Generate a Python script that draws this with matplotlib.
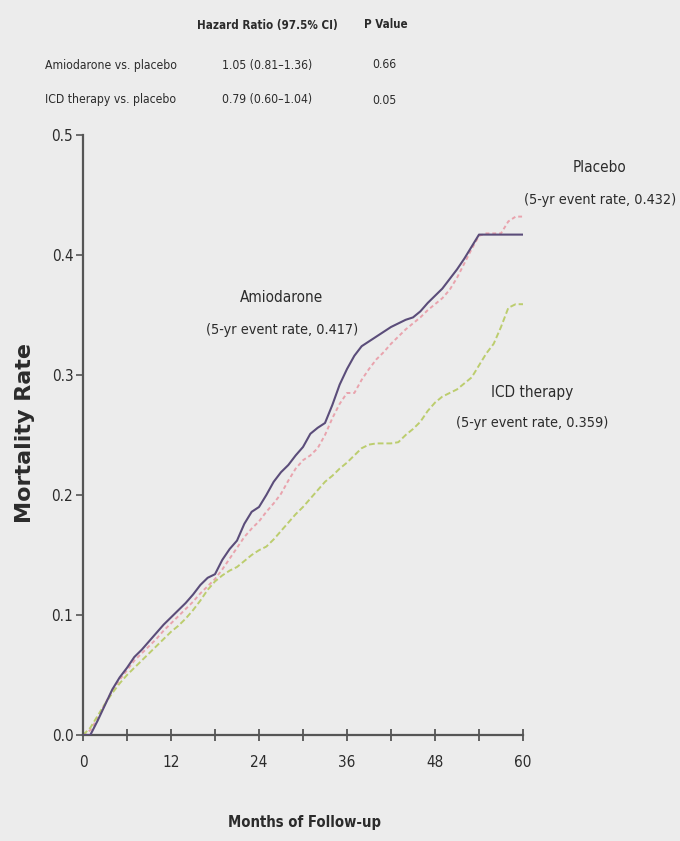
import matplotlib
matplotlib.use("Agg")
import matplotlib.pyplot as plt
import numpy as np

# Kaplan-Meier style cumulative mortality, monthly values (months 0..60)
months = list(range(61))

amiodarone = [
    0.000, 0.000, 0.012, 0.025, 0.038, 0.048, 0.056, 0.065, 0.071, 0.078,
    0.085, 0.092, 0.098, 0.104, 0.110, 0.117, 0.125, 0.131, 0.134, 0.146,
    0.155, 0.162, 0.176, 0.186, 0.190, 0.200, 0.211, 0.219, 0.225, 0.233,
    0.240, 0.251, 0.256, 0.260, 0.275, 0.292, 0.305, 0.316, 0.324, 0.328,
    0.332, 0.336, 0.340, 0.343, 0.346, 0.348, 0.353, 0.360, 0.366, 0.372,
    0.380, 0.388, 0.397, 0.407, 0.417, 0.417, 0.417, 0.417, 0.417, 0.417,
    0.417,
]

placebo = [
    0.000, 0.004, 0.014, 0.026, 0.037, 0.046, 0.054, 0.062, 0.068, 0.074,
    0.080, 0.087, 0.093, 0.099, 0.105, 0.111, 0.118, 0.124, 0.130, 0.138,
    0.147, 0.156, 0.165, 0.172, 0.178, 0.186, 0.193, 0.201, 0.212, 0.222,
    0.229, 0.233, 0.239, 0.250, 0.264, 0.276, 0.285, 0.285, 0.296, 0.305,
    0.313, 0.319, 0.326, 0.332, 0.338, 0.343, 0.348, 0.354, 0.359, 0.364,
    0.371, 0.381, 0.393, 0.405, 0.416, 0.418, 0.418, 0.418, 0.428, 0.432,
    0.432,
]

icd_therapy = [
    0.000, 0.006, 0.016, 0.026, 0.035, 0.043, 0.050, 0.056, 0.062, 0.068,
    0.074, 0.080, 0.086, 0.091, 0.097, 0.104, 0.112, 0.121, 0.128, 0.133,
    0.137, 0.140, 0.145, 0.150, 0.154, 0.157, 0.163, 0.170, 0.177, 0.184,
    0.190, 0.197, 0.204, 0.211, 0.216, 0.222, 0.227, 0.233, 0.239, 0.242,
    0.243, 0.243, 0.243, 0.244, 0.250, 0.255, 0.261, 0.270, 0.277, 0.282,
    0.285, 0.288, 0.293, 0.298, 0.308, 0.318, 0.326, 0.340, 0.356, 0.359,
    0.359,
]

# Summary table
comparisons = ["Amiodarone vs. placebo", "ICD therapy vs. placebo"]
hazard_ratios = ["1.05 (0.81\u20131.36)", "0.79 (0.60\u20131.04)"]
p_values = ["0.66", "0.05"]

# Curve labels
curve_labels = [
    ("Placebo", "(5-yr event rate, 0.432)"),
    ("Amiodarone", "(5-yr event rate, 0.417)"),
    ("ICD therapy", "(5-yr event rate, 0.359)"),
]

x_ticks = [0, 12, 24, 36, 48, 60]
x_minor = [6, 18, 30, 42, 54]
y_ticks = [0.0, 0.1, 0.2, 0.3, 0.4, 0.5]

W, H = 680, 841
BG = "#ececec"
TEXT = "#2b2b2b"
FONT = dict(family="DejaVu Sans", stretch="condensed")

fig = plt.figure(figsize=(W / 100, H / 100), dpi=100, facecolor=BG)


def px(x, y):
    return x / W, 1 - y / H


ax_left, ax_right, ax_top, ax_bottom = 83, 523, 135, 735
ax = fig.add_axes([ax_left / W, 1 - ax_bottom / H,
                   (ax_right - ax_left) / W, (ax_bottom - ax_top) / H])
ax.set_facecolor(BG)

ax.plot(months, placebo, color="#e9a3ad", lw=1.4, ls=(0, (2, 1.5)), zorder=2)
ax.plot(months, icd_therapy, color="#bccd6e", lw=1.4, ls=(0, (3, 1.5)),
        zorder=2)
ax.plot(months, amiodarone, color="#5b4d7a", lw=1.5, zorder=3)

ax.set_xlim(0, 60)
ax.set_ylim(0, 0.5)
for s in ["top", "right"]:
    ax.spines[s].set_visible(False)
for s in ["left", "bottom"]:
    ax.spines[s].set_color("#555555")
    ax.spines[s].set_linewidth(1.6)

ax.set_xticks(x_ticks)
ax.set_xticks(x_minor, minor=True)
ax.set_yticks(y_ticks)
ax.set_xticklabels([str(t) for t in x_ticks])
ax.set_yticklabels([f"{t:.1f}" for t in y_ticks])
ax.tick_params(axis="x", which="both", direction="inout", length=9,
               width=1.3, color="#555555", pad=10)
ax.tick_params(axis="y", direction="out", length=5, width=1.2,
               color="#555555", pad=2)
for lab in ax.get_xticklabels() + ax.get_yticklabels():
    lab.set_fontproperties(dict(FONT, size=11))
    lab.set_color(TEXT)

# Axis titles
fig.text(*px(25, 433), "Mortality Rate", rotation=90, ha="center",
         va="center", fontsize=16, fontweight="bold", color=TEXT,
         family="DejaVu Sans")
fig.text(*px(304, 823), "Months of Follow-up", ha="center", va="center",
         fontsize=10.6, fontweight="bold", color=TEXT, **FONT)

# Table above the plot
fig.text(*px(267, 25), "Hazard Ratio (97.5% CI)", ha="center", va="center",
         fontsize=8.3, fontweight="bold", color=TEXT, **FONT)
fig.text(*px(386, 25), "P Value", ha="center", va="center",
         fontsize=8.3, fontweight="bold", color=TEXT, **FONT)
for i, (name, hr, p) in enumerate(zip(comparisons, hazard_ratios, p_values)):
    y = 65 + 35 * i
    fig.text(*px(45, y), name, ha="left", va="center", fontsize=8.7,
             color=TEXT, **FONT)
    fig.text(*px(267, y), hr, ha="center", va="center", fontsize=8.7,
             color=TEXT, **FONT)
    fig.text(*px(384, y), p, ha="center", va="center", fontsize=8.7,
             color=TEXT, **FONT)

# Curve annotations
label_pos = [(600, 168, 200), (282, 297, 330), (532, 393, 423)]
for (name, rate), (x, y1, y2) in zip(curve_labels, label_pos):
    fig.text(*px(x, y1), name, ha="center", va="center", fontsize=11,
             color=TEXT, **FONT)
    fig.text(*px(x, y2), rate, ha="center", va="center", fontsize=10.4,
             color=TEXT, **FONT)

fig.savefig("out.png", dpi=100, facecolor=BG)
